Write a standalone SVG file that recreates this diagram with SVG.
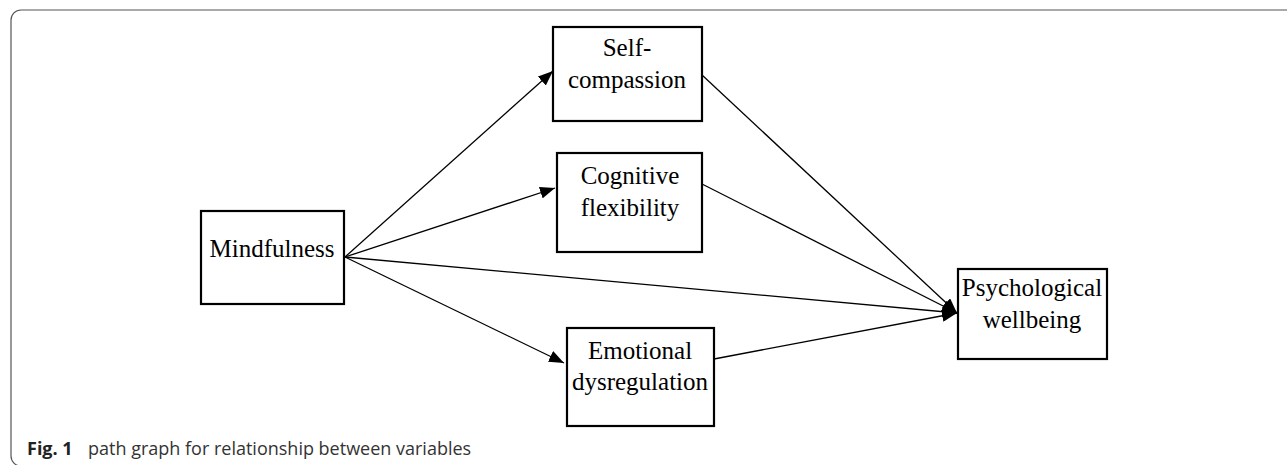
<svg xmlns="http://www.w3.org/2000/svg" width="1287" height="465" viewBox="0 0 1287 465">
<style>
.box{fill:#fff;stroke:#000;stroke-width:2.2}
.lbl{font-family:"Liberation Serif","Times New Roman",serif;font-size:25px;fill:#000;text-anchor:middle}
.edge{stroke:#000;stroke-width:1.3;fill:none}
.cap{font-family:"Open Sans","Noto Sans",sans-serif;font-size:18px;fill:#333}
</style>
<defs>
<marker id="ah" markerUnits="userSpaceOnUse" markerWidth="15" markerHeight="12" refX="15" refY="6" orient="auto">
<path d="M0,0 L15,6 L0,12 z" fill="#000"/>
</marker>
</defs>
<rect x="11" y="10" width="1300" height="456" rx="10" fill="#fff" stroke="#555" stroke-width="1.2"/>
<g id="connectors">
<line class="edge" x1="345" y1="257" x2="553" y2="71" marker-end="url(#ah)"/>
<line class="edge" x1="345" y1="257" x2="555" y2="188" marker-end="url(#ah)"/>
<line class="edge" x1="345" y1="257" x2="564" y2="363" marker-end="url(#ah)"/>
<line class="edge" x1="345" y1="257" x2="957" y2="313" marker-end="url(#ah)"/>
<line class="edge" x1="702" y1="75" x2="957" y2="313" marker-end="url(#ah)"/>
<line class="edge" x1="702" y1="184" x2="957" y2="313" marker-end="url(#ah)"/>
<line class="edge" x1="714" y1="359" x2="957" y2="313" marker-end="url(#ah)"/>
</g>
<g id="mindfulness">
<rect class="box" x="201" y="211" width="143" height="93"/>
<text class="lbl" x="272" y="257">Mindfulness</text>
</g>
<g id="self-compassion">
<rect class="box" x="553" y="27" width="149" height="94"/>
<text class="lbl" x="627" y="56">Self-</text>
<text class="lbl" x="627" y="88">compassion</text>
</g>
<g id="cognitive-flexibility">
<rect class="box" x="557" y="153" width="145" height="99"/>
<text class="lbl" x="630" y="184">Cognitive</text>
<text class="lbl" x="630" y="216">flexibility</text>
</g>
<g id="emotional-dysregulation">
<rect class="box" x="567" y="328" width="147" height="98"/>
<text class="lbl" x="640" y="359">Emotional</text>
<text class="lbl" x="640" y="390">dysregulation</text>
</g>
<g id="psychological-wellbeing">
<rect class="box" x="958" y="269" width="149" height="90"/>
<text class="lbl" x="1032" y="296">Psychological</text>
<text class="lbl" x="1032" y="328">wellbeing</text>
</g>
<text class="cap" x="27" y="455"><tspan font-weight="bold" fill="#222">Fig. 1</tspan><tspan x="88">path graph for relationship between variables</tspan></text>
</svg>
